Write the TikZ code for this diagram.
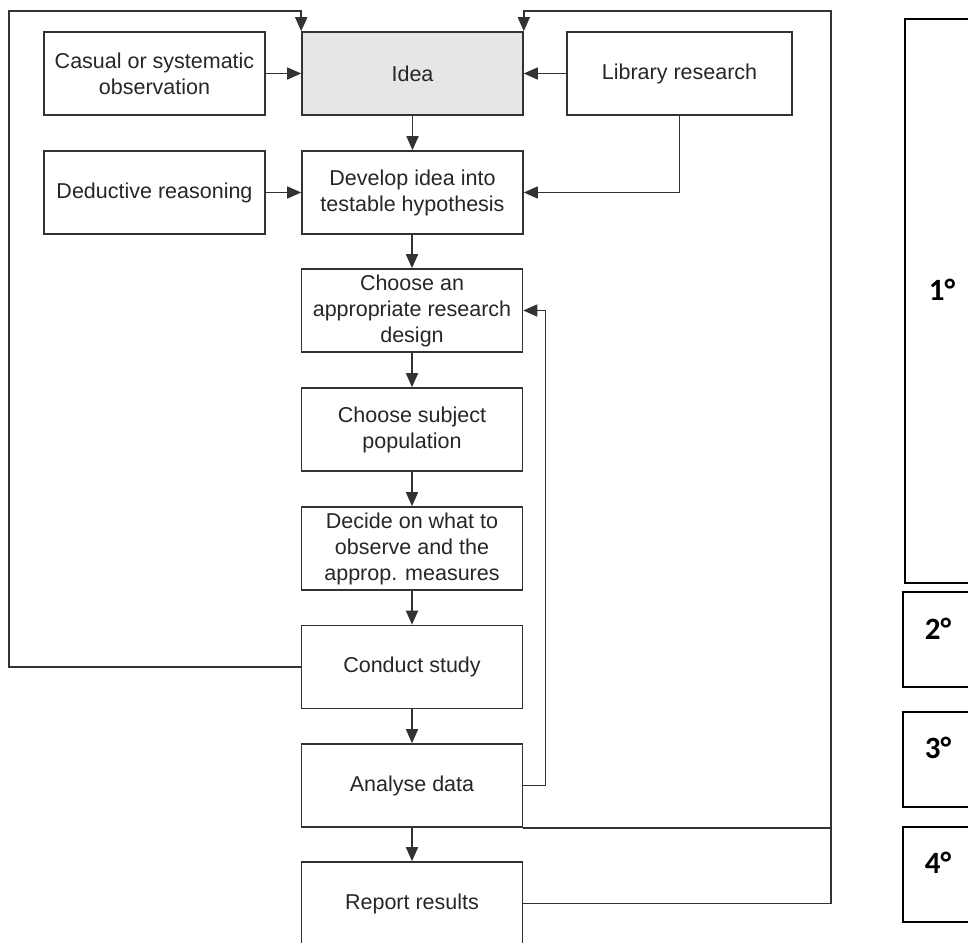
\documentclass[tikz,border=0pt]{standalone}
\usepackage{fontspec}
\setmainfont{Liberation Sans}
\newfontfamily\gradefont{Carlito}
\usetikzlibrary{arrows.meta}

\definecolor{boxline}{RGB}{50,50,50}
\definecolor{ideafill}{RGB}{230,230,230}

\tikzset{every picture/.style={line width=1.6pt}}
\tikzset{
  stage/.style={draw=boxline, rectangle, minimum width=221pt, minimum height=83pt,
    inner sep=0pt, align=center, text=black!85, font=\fontsize{21.5}{26}\selectfont},
  flow/.style={draw=boxline, -{Triangle[length=14pt,width=12pt]}},
  link/.style={draw=boxline},
  gradebox/.style={draw=black, line width=2.4pt},
  grade/.style={anchor=base west, inner sep=0pt, font=\gradefont\bfseries\fontsize{31}{31}\selectfont}
}

\begin{document}
\begin{tikzpicture}[x=1pt,y=1pt,yscale=-1,xscale=1]
    \useasboundingbox (0,0) rectangle (968,942);

    % Boxes of the left column
    \node [stage] (casual) at (154.5,73.5) {Casual or systematic\\observation};
    \node [stage] (deduct) at (154.5,192.5) {Deductive reasoning};
    % Boxes of the main column
    \node [stage, fill=ideafill] (idea) at (412.5,73.5) {Idea};
    \node [stage] (develop) at (412.5,192.5) {Develop idea into\\testable hypothesis};
    \node [stage] (design) at (412,310.5) {Choose an\\appropriate research\\design};
    \node [stage] (subject) at (412,429.5) {Choose subject\\population};
    \node [stage] (decide) at (412,548.5) {Decide on what to\\observe and the\\approp. measures};
    \node [stage] (conduct) at (412,667) {Conduct study};
    \node [stage] (analyse) at (412,785.5) {Analyse data};
    \node [stage] (report) at (412,903.5) {Report results};
    % Box on the right
    \node [stage, minimum width=225pt] (library) at (679.5,73.5) {Library research};

    % Corners of the feedback loops
    \coordinate (lefttop) at (9,11);
    \coordinate (righttop) at (831,11);

    % Straight arrows
    \draw [flow] (casual) -- (idea);
    \draw [flow] (library) -- (idea);
    \draw [flow] (deduct) -- (develop);
    \draw [flow] (idea) -- (develop);
    \draw [flow] (develop.south -| design) -- (design);
    \draw [flow] (design) -- (subject);
    \draw [flow] (subject) -- (decide);
    \draw [flow] (decide) -- (conduct);
    \draw [flow] (conduct) -- (analyse);
    \draw [flow] (analyse) -- (report);
    \draw [flow] (library.south) |- (develop.east);

    % Feedback loops
    \draw [flow] (conduct.west) -| (lefttop) -| (idea.north west);
    \draw [flow] (report.east) -| (righttop) -| (idea.north east);
    \draw [flow] (analyse.east) -- ++(22,0) |- (design.east);
    \draw [link] (analyse.south east) -- (analyse.south east -| righttop);

    % Phases
    \draw [gradebox] (970,19) -| (905,583) -- (970,583);
    \draw [gradebox] (970,592) -| (903,687) -- (970,687);
    \draw [gradebox] (970,712) -| (903,807) -- (970,807);
    \draw [gradebox] (970,827) -| (903,922) -- (970,922);

    % Text Node
    \node [grade] (first) at (928,300) {1°};
    \node [grade] (second) at (924,639) {2°};
    \node [grade] (third) at (924,758) {3°};
    \node [grade] (fourth) at (924,873) {4°};

\end{tikzpicture}
\end{document}
